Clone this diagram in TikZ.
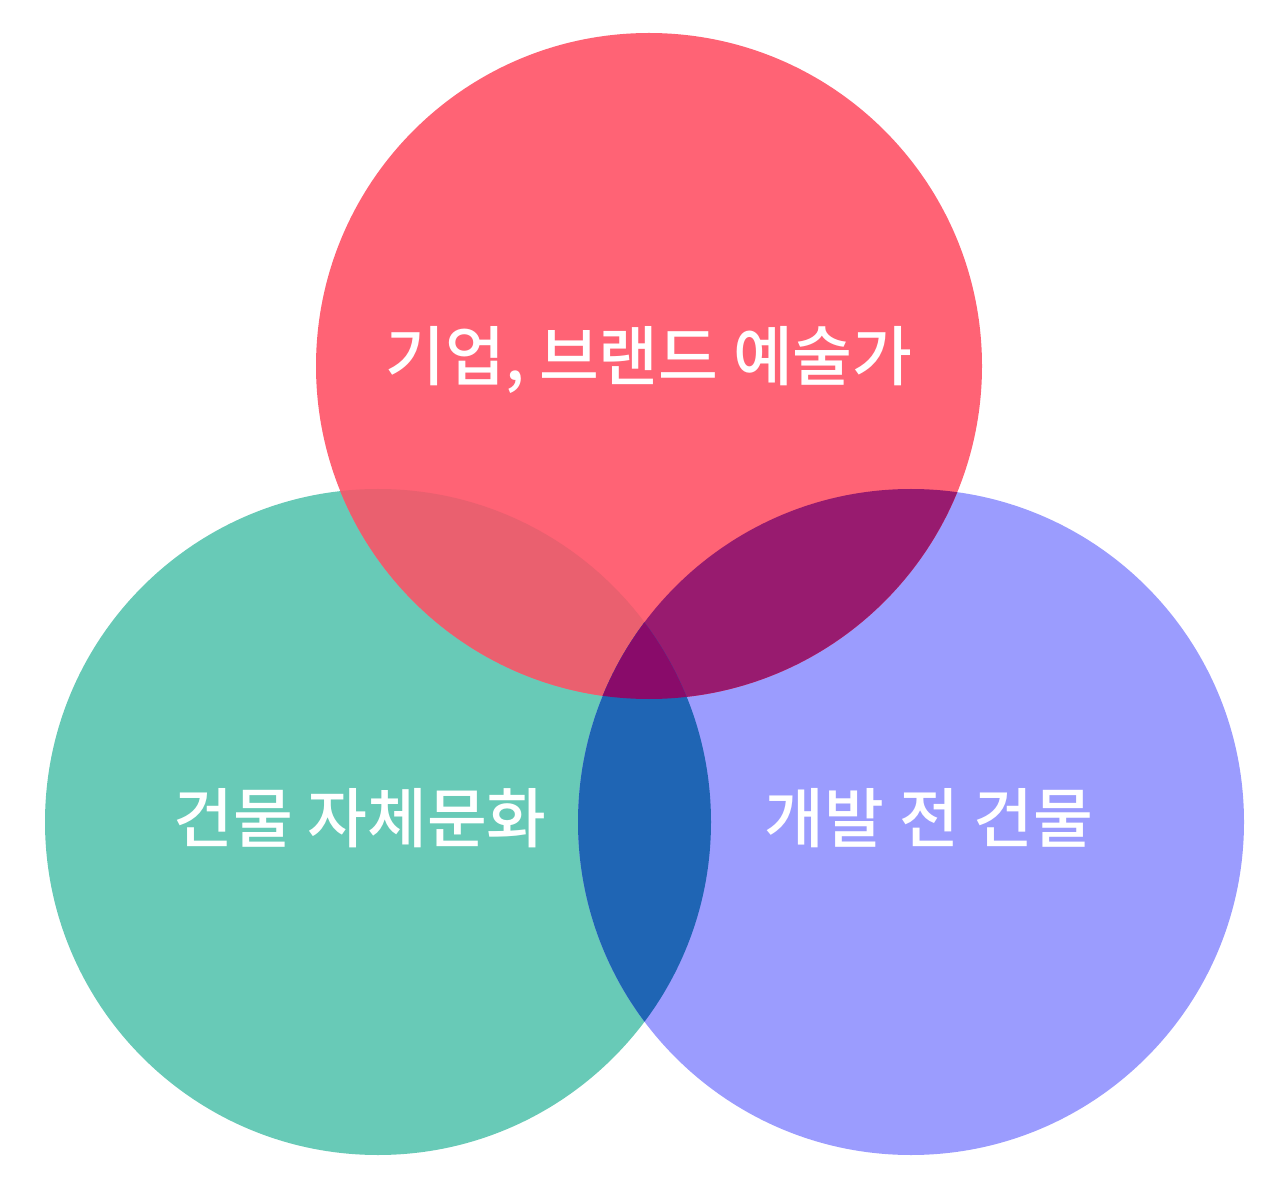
\documentclass[tikz,border=0pt]{standalone}
\usepackage{fontspec}
\newfontfamily\krfont{Noto Sans CJK KR Medium}
\definecolor{brandred}{HTML}{FF6375}
\definecolor{mintgreen}{HTML}{68CAB7}
\definecolor{lavender}{HTML}{9B9CFE}
\definecolor{redgreen}{HTML}{EA606F}
\definecolor{redblue}{HTML}{981B6F}
\definecolor{greenblue}{HTML}{1F65B4}
\definecolor{allthree}{HTML}{890B6A}
\tikzset{
  label text/.style={text=white, font=\krfont\fontsize{37}{44}\selectfont, inner sep=0pt}
}
\begin{document}
\begin{tikzpicture}
        \def \radius {6.66cm}
        \useasboundingbox (0,0) rectangle (25.6,24.06);

        \coordinate (T) at (12.98,16.74);
        \coordinate (L) at (7.56,7.62);
        \coordinate (R) at (18.22,7.62);

        % circles
        \fill[mintgreen] (L) circle (\radius);
        \fill[lavender] (R) circle (\radius);
        \fill[brandred] (T) circle (\radius);

        % overlaps
        \begin{scope}
          \clip (T) circle (\radius);
          \fill[redgreen] (L) circle (\radius);
          \fill[redblue] (R) circle (\radius);
        \end{scope}
        \begin{scope}
          \clip (L) circle (\radius);
          \fill[greenblue] (R) circle (\radius);
          \clip (R) circle (\radius);
          \fill[allthree] (T) circle (\radius);
        \end{scope}

        \node[label text] (brand) at (12.98,16.86) {기업, 브랜드 예술가};
        \node[label text] (culture) at (7.2,7.7) {건물 자체문화};
        \node[label text] (building) at (18.58,7.7) {개발 전 건물};
      \end{tikzpicture}
\end{document}
